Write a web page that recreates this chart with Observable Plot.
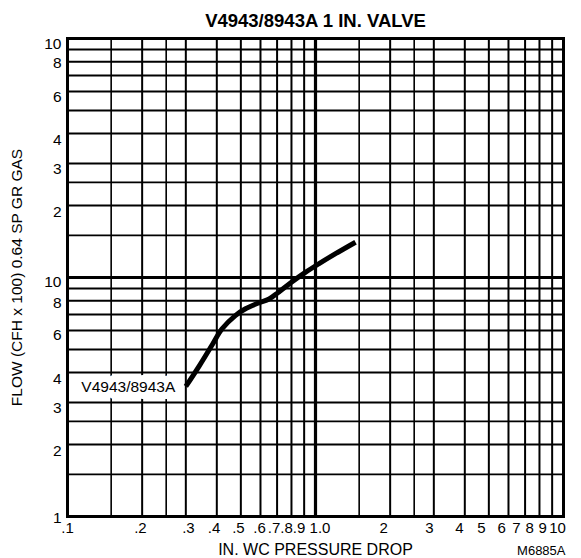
<!DOCTYPE html>
<html>
<head>
<meta charset="utf-8">
<script src="https://cdn.jsdelivr.net/npm/d3@7"></script>
<script src="https://cdn.jsdelivr.net/npm/@observablehq/plot@0.6"></script>
<style>
  html, body { margin: 0; padding: 0; background: #fff; }
  #chart svg { display: block; }
</style>
</head>
<body>
<div id="chart"></div>
<script>
// ---- data ----
const chartTitle = "V4943/8943A 1 IN. VALVE";
const xTitle = "IN. WC PRESSURE DROP";
const yTitle = "FLOW (CFH x 100) 0.64 SP GR GAS";
const figureCode = "M6885A";
const curveLabel = "V4943/8943A";

const xTickValues = [0.1, 0.2, 0.3, 0.4, 0.5, 0.6, 0.7, 0.8, 0.9, 1, 2, 3, 4, 5, 6, 7, 8, 9, 10];
const xTickLabels = [".1", ".2", ".3", ".4", ".5", ".6", ".7", ".8", ".9", "1.0", "2", "3", "4", "5", "6", "7", "8", "9", "10"];
const yTickValues = [1, 2, 3, 4, 6, 8, 10, 20, 30, 40, 60, 80, 100];
const yTickLabels = ["1", "2", "3", "4", "6", "8", "10", "2", "3", "4", "6", "8", "10"];

const xGridValues = [0.15, 0.2, 0.25, 0.3, 0.4, 0.5, 0.6, 0.7, 0.8, 0.9, 1, 1.5, 2, 2.5, 3, 4, 5, 6, 7, 8, 9];
const yGridValues = [1.5, 2, 2.5, 3, 4, 5, 6, 7, 8, 9, 10, 15, 20, 25, 30, 40, 50, 60, 70, 80, 90];
const heavyX = [1];
const heavyY = [10];

const flowPressure = [0.30, 0.34, 0.385, 0.42, 0.475, 0.52, 0.59, 0.65, 0.71, 0.80, 0.91, 1.03, 1.2, 1.45];
const flowValue    = [3.5, 4.27, 5.27, 6.1, 6.93, 7.38, 7.83, 8.13, 8.68, 9.55, 10.5, 11.4, 12.55, 14.05];

// ---- build ----
const curve = flowPressure.map((p, i) => ({p, f: flowValue[i]}));
const xTicks = xTickValues.map((v, i) => ({v, label: xTickLabels[i]}));
const yTicks = yTickValues.map((v, i) => ({v, label: yTickLabels[i]}));
const font = "'Liberation Sans', Arial, Helvetica, sans-serif";

const halfStep = new Set([0.15, 0.25, 1.5, 2.5, 15, 25]);
const gridWidth = v => halfStep.has(v) ? 1.6 : 2;

// label nudges (typographic spacing as in the original)
const xNudge = v => ({0.1: 0, 0.2: -1.7, 0.3: 2.6, 0.4: -2.8, 0.5: -2.4, 0.6: -1, 0.7: -3.1, 0.8: -5, 0.9: -5.1, 1: 4.5,
                      2: -6.4, 3: -4.3, 4: -5.3, 5: -7.3, 6: -6.9, 7: -8.6, 8: -9.9, 9: -9.6, 10: -6})[v] ?? -4;
const yNudge = v => ({1: 2, 6: 4.5, 8: 2, 10: 5, 60: 5.5, 80: 1, 100: 5.5})[v] ?? 6;

const plot = Plot.plot({
  width: 581,
  height: 558,
  marginLeft: 67,
  marginRight: 18,
  marginTop: 38,
  marginBottom: 42,
  style: {fontFamily: font, color: "#000", background: "#fff"},
  x: {type: "log", domain: [0.1, 10], axis: null},
  y: {type: "log", domain: [1, 100], axis: null},
  marks: [
    Plot.ruleX(xGridValues.filter(v => !heavyX.includes(v)), {x: d => d, stroke: "#000", strokeWidth: gridWidth}),
    Plot.ruleY(yGridValues.filter(v => !heavyY.includes(v)), {y: d => d, stroke: "#000", strokeWidth: gridWidth}),
    Plot.ruleX(heavyX, {x: d => d, stroke: "#000", strokeWidth: 3.2}),
    Plot.ruleY(heavyY, {y: d => d, stroke: "#000", strokeWidth: 3.2}),
    Plot.frame({stroke: "#000", strokeWidth: 3}),
    // x tick labels
    ...xTicks.map(d => Plot.text([d], {x: "v", text: "label", frameAnchor: "bottom", lineAnchor: "middle", textAnchor: "middle",
                                       dy: 12, dx: xNudge(d.v), fontSize: 15, fill: "#000"})),
    // y tick labels
    ...yTicks.map(d => Plot.text([d], {y: "v", text: "label", frameAnchor: "left", lineAnchor: "middle", textAnchor: "end",
                                       dx: -6, dy: yNudge(d.v), fontSize: 15.5, fill: "#000"})),
    // titles
    Plot.text([chartTitle], {frameAnchor: "top", lineAnchor: "middle", textAnchor: "middle", dy: -17.3, fontSize: 18.5, fontWeight: "bold", fill: "#000"}),
    Plot.text([xTitle], {frameAnchor: "bottom", lineAnchor: "middle", textAnchor: "middle", dy: 33.6, fontSize: 16, fill: "#000"}),
    Plot.text([figureCode], {frameAnchor: "bottom-right", lineAnchor: "middle", textAnchor: "end", dx: 2, dy: 34.3, fontSize: 13, fill: "#000"}),
    Plot.text([yTitle], {frameAnchor: "left", lineAnchor: "middle", textAnchor: "middle", rotate: -90, dx: -50, fontSize: 15.5, fill: "#000"}),
    // curve label with white box
    Plot.text([curve[0]], {x: "p", y: "f", text: () => curveLabel, textAnchor: "end", lineAnchor: "middle", dx: -10.5, dy: 1, fontSize: 15.5,
                           fill: "#000", stroke: "#fff", strokeWidth: 14, paintOrder: "stroke"}),
    // curve
    Plot.line(curve, {x: "p", y: "f", curve: "catmull-rom", stroke: "#000", strokeWidth: 5, strokeLinecap: "butt"})
  ]
});
document.getElementById("chart").appendChild(plot);
</script>
</body>
</html>
